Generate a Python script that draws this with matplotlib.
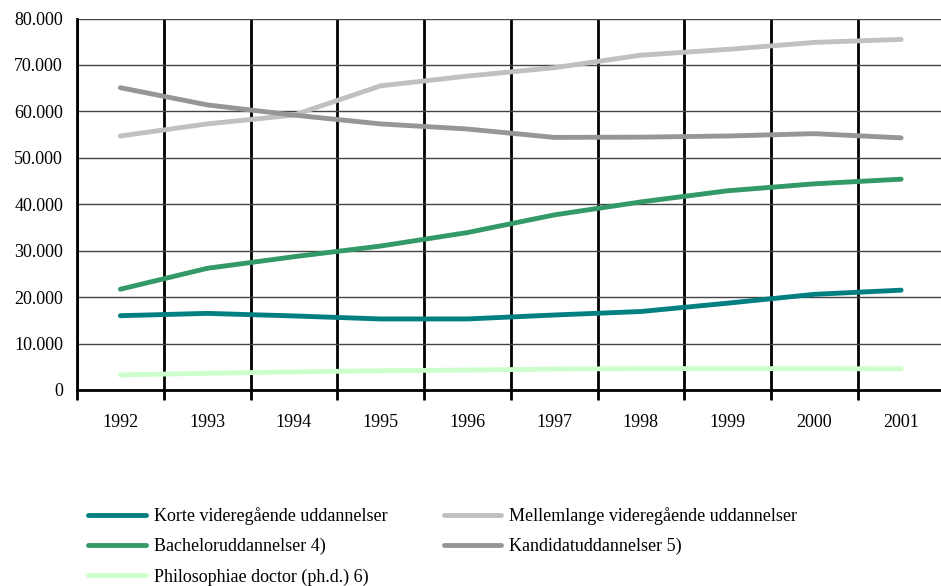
import numpy as np
import matplotlib
matplotlib.use('Agg')
import matplotlib.pyplot as plt
from matplotlib.ticker import FuncFormatter

plt.rcParams['font.family'] = ['Liberation Serif', 'DejaVu Serif']

years = ['1992', '1993', '1994', '1995', '1996', '1997', '1998', '1999', '2000', '2001']

korte = [16000, 16500, 15950, 15300, 15300, 16150, 16900, 18700, 20600, 21500]
mellemlange = [54700, 57300, 59200, 65500, 67600, 69400, 72100, 73350, 74850, 75500]
bachelor = [21700, 26200, 28700, 31000, 33900, 37700, 40500, 42900, 44400, 45400]
kandidat = [65100, 61400, 59200, 57300, 56200, 54400, 54450, 54700, 55200, 54300]
phd = [3250, 3600, 3900, 4150, 4300, 4500, 4600, 4600, 4600, 4550]

labels = ['Korte videregående uddannelser', 'Mellemlange videregående uddannelser',
          'Bacheloruddannelser 4)', 'Kandidatuddannelser 5)',
          'Philosophiae doctor (ph.d.) 6)']
colors = ['#008080', '#C0C0C0', '#339966', '#969696', '#CCFFCC']

fig = plt.figure(figsize=(9.41, 5.86), dpi=100)
ax = fig.add_axes([77 / 941, 196 / 586, 867.5 / 941, 371.5 / 586])

x = np.arange(len(years))
lines = []
for serie, lab, col in zip([korte, mellemlange, bachelor, kandidat, phd], labels, colors):
    l, = ax.plot(x, serie, color=col, lw=3.5, solid_capstyle='round', label=lab, zorder=3)
    lines.append(l)

ax.set_xlim(-0.5, len(years) - 0.5)
ax.set_ylim(0, 80000)
ax.set_yticks(np.arange(0, 80001, 10000))
ax.yaxis.set_major_formatter(FuncFormatter(lambda v, p: f'{int(v):,}'.replace(',', '.')))

ax.set_xticks(x)
ax.set_xticklabels(years)
ax.set_xticks(np.arange(-0.5, len(years)), minor=True)
ax.tick_params(axis='x', which='major', length=0, pad=17, labelsize=13)
ax.tick_params(axis='x', which='minor', length=7, width=2, direction='out', color='black')
ax.tick_params(axis='y', length=0, pad=10, labelsize=13)

ax.grid(axis='y', color='#444444', lw=1)
ax.grid(axis='x', which='minor', color='black', lw=2)
ax.set_axisbelow(True)

for s in ['top', 'right']:
    ax.spines[s].set_visible(False)
ax.spines['left'].set_linewidth(2)
ax.spines['bottom'].set_linewidth(2)

order = [0, 2, 4, 1, 3]
fig.legend([lines[i] for i in order], [labels[i] for i in order],
           loc='upper left', bbox_to_anchor=(88 / 941, 1 - 507 / 586),
           ncol=2, frameon=False, fontsize=13, handlelength=3.2,
           handletextpad=0.45, labelspacing=0.72, columnspacing=3.1,
           borderpad=0, borderaxespad=0)

fig.savefig('out.png', dpi=100)
